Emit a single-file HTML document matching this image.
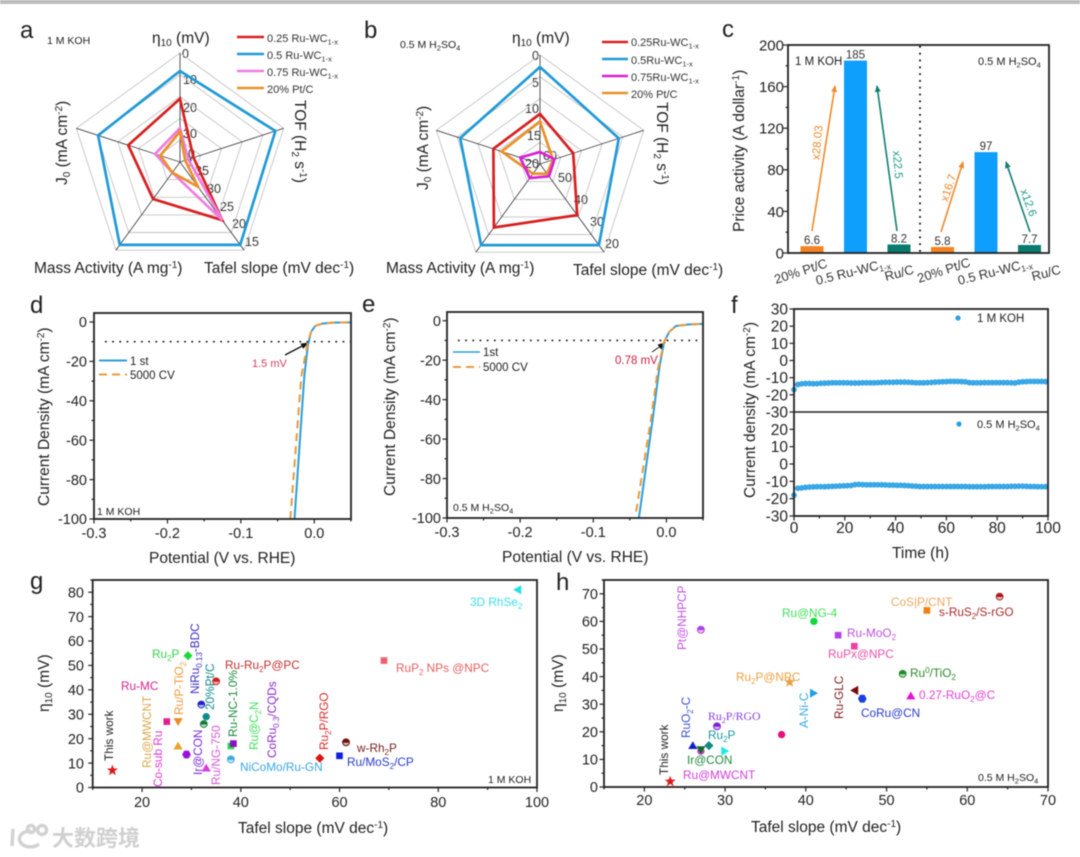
<!DOCTYPE html>
<html lang="en">
<head>
<meta charset="utf-8">
<title>Ru-WC catalyst HER performance figure</title>
<style>
html,body{margin:0;padding:0;background:#fff;width:1080px;height:857px;overflow:hidden}
svg{display:block;filter:blur(.5px)}
</style>
</head>
<body>
<svg id="chart" xmlns="http://www.w3.org/2000/svg" width="1080" height="857" viewBox="0 0 1080 857" font-family="'Liberation Sans',sans-serif" fill="#222">
<defs>
<marker id="ah-orange" markerWidth="7" markerHeight="7" refX="6" refY="3" orient="auto" markerUnits="userSpaceOnUse"><path d="M0,0 L7,3 L0,6 Z" fill="#ee8a2a"/></marker>
<marker id="ah-teal" markerWidth="7" markerHeight="7" refX="6" refY="3" orient="auto" markerUnits="userSpaceOnUse"><path d="M0,0 L7,3 L0,6 Z" fill="#0f7f72"/></marker>
<marker id="ah-black" markerWidth="8" markerHeight="7" refX="7" refY="3" orient="auto" markerUnits="userSpaceOnUse"><path d="M0,0 L8,3 L0,6 Z" fill="#111"/></marker>
</defs>
<rect x="0" y="0" width="1080" height="4" fill="#bcbcbc"/>

<!-- panel letters -->
<g font-size="24">
<text x="20" y="38">a</text>
<text x="364" y="38">b</text>
<text x="722" y="37">c</text>
<text x="30" y="313">d</text>
<text x="362" y="312">e</text>
<text x="731" y="313">f</text>
<text x="30" y="589">g</text>
<text x="556" y="590">h</text>
</g>

<!-- panel a text -->
<text x="47" y="44" font-size="10.5">1 M KOH</text>
<g font-size="15.5">
<text x="152" y="43">η<tspan dy="3" font-size="10">10</tspan><tspan dy="-3"> (mV)</tspan></text>
<text x="295" y="100" transform="rotate(90 295 100)">TOF (H<tspan dy="3" font-size="10">2</tspan><tspan dy="-3"> s</tspan><tspan dy="-5" font-size="10">-1</tspan><tspan dy="5">)</tspan></text>
<text x="67" y="185" transform="rotate(-90 67 185)">J<tspan dy="3" font-size="10">0</tspan><tspan dy="-3"> (mA cm</tspan><tspan dy="-5" font-size="10">-2</tspan><tspan dy="5">)</tspan></text>
<text x="34" y="273">Mass Activity (A mg<tspan dy="-5" font-size="10">-1</tspan><tspan dy="5">)</tspan></text>
<text x="204" y="273">Tafel slope (mV dec<tspan dy="-5" font-size="10">-1</tspan><tspan dy="5">)</tspan></text>
</g>
<g font-size="12.5" fill="#333">
<text x="182" y="58">0</text>
<text x="183" y="84">10</text>
<text x="183" y="112">20</text>
<text x="183" y="138">30</text>
<text x="188" y="158">0</text>
<text x="188" y="166" font-size="10">1</text>
<text x="195" y="175">35</text>
<text x="207" y="193">30</text>
<text x="220" y="211">25</text>
<text x="232" y="228">20</text>
<text x="245" y="246">15</text>
</g>
<g font-size="11" fill="#333">
<text x="267" y="42">0.25 Ru-WC<tspan dy="2.5" font-size="7.5">1-x</tspan></text>
<text x="267" y="59">0.5 Ru-WC<tspan dy="2.5" font-size="7.5">1-x</tspan></text>
<text x="267" y="76">0.75 Ru-WC<tspan dy="2.5" font-size="7.5">1-x</tspan></text>
<text x="267" y="93">20% Pt/C</text>
<text x="631" y="46">0.25Ru-WC<tspan dy="2.5" font-size="7.5">1-x</tspan></text>
<text x="631" y="64">0.5Ru-WC<tspan dy="2.5" font-size="7.5">1-x</tspan></text>
<text x="631" y="81">0.75Ru-WC<tspan dy="2.5" font-size="7.5">1-x</tspan></text>
<text x="631" y="98">20% Pt/C</text>
</g>
<g stroke-width="2.6" fill="none">
<line x1="237" y1="37" x2="264" y2="37" stroke="#d71f1f"/>
<line x1="237" y1="54" x2="264" y2="54" stroke="#1f9ad6"/>
<line x1="237" y1="71" x2="264" y2="71" stroke="#ef7ce0"/>
<line x1="237" y1="88" x2="264" y2="88" stroke="#e8902a"/>
<line x1="602" y1="42" x2="628" y2="42" stroke="#d71f1f"/>
<line x1="602" y1="59" x2="628" y2="59" stroke="#1f9ad6"/>
<line x1="602" y1="76" x2="628" y2="76" stroke="#d81fd8"/>
<line x1="602" y1="93" x2="628" y2="93" stroke="#e8902a"/>
</g>

<!-- panel b text -->
<text x="400" y="48" font-size="10.5">0.5 M H<tspan dy="2.5" font-size="7.5">2</tspan><tspan dy="-2.5">SO</tspan><tspan dy="2.5" font-size="7.5">4</tspan></text>
<g font-size="15.5">
<text x="512" y="43">η<tspan dy="3" font-size="10">10</tspan><tspan dy="-3"> (mV)</tspan></text>
<text x="657" y="102" transform="rotate(90 657 102)">TOF (H<tspan dy="3" font-size="10">2</tspan><tspan dy="-3"> s</tspan><tspan dy="-5" font-size="10">-1</tspan><tspan dy="5">)</tspan></text>
<text x="428" y="190" transform="rotate(-90 428 190)">J<tspan dy="3" font-size="10">0</tspan><tspan dy="-3"> (mA cm</tspan><tspan dy="-5" font-size="10">-2</tspan><tspan dy="5">)</tspan></text>
<text x="386" y="273">Mass Activity (A mg<tspan dy="-5" font-size="10">-1</tspan><tspan dy="5">)</tspan></text>
<text x="573" y="275">Tafel slope (mV dec<tspan dy="-5" font-size="10">-1</tspan><tspan dy="5">)</tspan></text>
</g>
<g font-size="12.5" fill="#333">
<text x="532" y="60">0</text>
<text x="532" y="87">5</text>
<text x="525" y="113">10</text>
<text x="527" y="140">15</text>
<text x="525" y="168">20</text>
<text x="543" y="160">60</text>
<text x="558" y="182">50</text>
<text x="574" y="204">40</text>
<text x="590" y="226">30</text>
<text x="605" y="248">20</text>
</g>

<!-- panel c text -->
<text x="744" y="232" font-size="15.5" transform="rotate(-90 744 232)">Price activity (A dollar<tspan dy="-5" font-size="10">-1</tspan><tspan dy="5">)</tspan></text>
<text x="795" y="65" font-size="11.5">1 M KOH</text>
<text x="978" y="65" font-size="11">0.5 M H<tspan dy="2.5" font-size="7.5">2</tspan><tspan dy="-2.5">SO</tspan><tspan dy="2.5" font-size="7.5">4</tspan></text>
<g font-size="13" fill="#333">
<text x="776" y="284" transform="rotate(-18 776 284)">20% Pt/C</text>
<text x="817" y="285" transform="rotate(-14 817 285)">0.5 Ru-WC<tspan dy="2.5" font-size="8.5">1-x</tspan></text>
<text x="886" y="281" transform="rotate(-15 886 281)">Ru/C</text>
<text x="919" y="283" transform="rotate(-18 919 283)">20% Pt/C</text>
<text x="959" y="285" transform="rotate(-14 959 285)">0.5 Ru-WC<tspan dy="2.5" font-size="8.5">1-x</tspan></text>
<text x="1033" y="281" transform="rotate(-15 1033 281)">Ru/C</text>
</g>

<!-- panel d text -->
<text x="49" y="506" font-size="15.5" transform="rotate(-90 49 506)">Current Density (mA cm<tspan dy="-5" font-size="10">-2</tspan><tspan dy="5">)</tspan></text>
<text x="149" y="563" font-size="15.5">Potential (V vs. RHE)</text>
<text x="97" y="515" font-size="10.5">1 M KOH</text>
<text x="252" y="367" font-size="11" fill="#cf4060">1.5 mV</text>
<line x1="285" y1="355" x2="308" y2="343" stroke="#111" stroke-width="1.3" marker-end="url(#ah-black)"/>
<line x1="99" y1="360.5" x2="127" y2="360.5" stroke="#2a9fd8" stroke-width="2"/>
<text x="130" y="365" font-size="11.5">1 st</text>
<line x1="99" y1="374.5" x2="127" y2="374.5" stroke="#e89a3c" stroke-width="2" stroke-dasharray="8 5"/>
<text x="130" y="379" font-size="11.5">5000 CV</text>

<!-- panel e text -->
<text x="395" y="496" font-size="15.5" transform="rotate(-90 395 496)">Current Density (mA cm<tspan dy="-5" font-size="10">-2</tspan><tspan dy="5">)</tspan></text>
<text x="502" y="562" font-size="15.5">Potential (V vs. RHE)</text>
<text x="453" y="511" font-size="10.5">0.5 M H<tspan dy="2.5" font-size="7.5">2</tspan><tspan dy="-2.5">SO</tspan><tspan dy="2.5" font-size="7.5">4</tspan></text>
<text x="615" y="364" font-size="11.5" fill="#d02040">0.78 mV</text>
<line x1="652" y1="352" x2="665" y2="343" stroke="#111" stroke-width="1" marker-end="url(#ah-black)"/>
<line x1="453" y1="352" x2="480" y2="352" stroke="#2a9fd8" stroke-width="1.5"/>
<text x="483" y="356" font-size="11.5">1st</text>
<line x1="453" y1="367" x2="480" y2="367" stroke="#e89a3c" stroke-width="2" stroke-dasharray="8 5"/>
<text x="483" y="371" font-size="11.5">5000 CV</text>

<!-- panel f text -->
<text x="755" y="498" font-size="15.5" transform="rotate(-90 755 498)">Current density (mA cm<tspan dy="-5" font-size="10">-2</tspan><tspan dy="5">)</tspan></text>
<text x="892" y="558" font-size="15.5">Time (h)</text>
<circle cx="958" cy="318" r="2.6" fill="#2aa0e0"/>
<text x="977" y="322" font-size="11.5">1 M KOH</text>
<circle cx="959" cy="424" r="2.6" fill="#2aa0e0"/>
<text x="977" y="428" font-size="11">0.5 M H<tspan dy="2.5" font-size="7.5">2</tspan><tspan dy="-2.5">SO</tspan><tspan dy="2.5" font-size="7.5">4</tspan></text>

<!-- panel g text -->
<text x="49" y="712" font-size="15.5" transform="rotate(-90 49 712)">η<tspan dy="3" font-size="10">10</tspan><tspan dy="-3"> (mV)</tspan></text>
<text x="238" y="833" font-size="15.5">Tafel slope (mV dec<tspan dy="-5" font-size="10">-1</tspan><tspan dy="5">)</tspan></text>
<text x="488" y="783" font-size="10.5">1 M KOH</text>
<g font-size="11.8">
<text x="113" y="761" transform="rotate(-90 113 761)">This work</text>
<text x="121" y="690" fill="#d6248f">Ru-MC</text>
<text x="151" y="768" transform="rotate(-90 151 768)" fill="#d9a84a">Ru@MWCNT</text>
<text x="162" y="787" transform="rotate(-90 162 787)" fill="#e03ad0">Co-sub Ru</text>
<text x="152" y="658" fill="#34d24a">Ru<tspan dy="3" font-size="8">2</tspan><tspan dy="-3">P</tspan></text>
<text x="183" y="715" transform="rotate(-90 183 715)" fill="#ee9a3a">Ru/P-TiO<tspan dy="3" font-size="8">2</tspan></text>
<text x="199" y="694" transform="rotate(-90 199 694)" fill="#3a2fc0">NiRu<tspan dy="3" font-size="8">0.13</tspan><tspan dy="-3">-BDC</tspan></text>
<text x="214" y="710" transform="rotate(-90 214 710)" fill="#128a8a">20%Pt/C</text>
<text x="202" y="775" transform="rotate(-90 202 775)" fill="#7a28d8">Ir@CON</text>
<text x="220" y="785" transform="rotate(-90 220 785)" fill="#d45ad8">Ru/NG-750</text>
<text x="237" y="737" transform="rotate(-90 237 737)" fill="#1a8a3a">Ru-NC-1.0%</text>
<text x="258" y="750" transform="rotate(-90 258 750)" fill="#3ee05a">Ru@C<tspan dy="3" font-size="8">2</tspan><tspan dy="-3">N</tspan></text>
<text x="276" y="758" transform="rotate(-90 276 758)" fill="#8a2bc0">CoRu<tspan dy="3" font-size="8">0.3</tspan><tspan dy="-3">/CQDs</tspan></text>
<text x="225" y="669" fill="#c23030">Ru-Ru<tspan dy="3" font-size="8">2</tspan><tspan dy="-3">P@PC</tspan></text>
<text x="240" y="771" fill="#3aa8e0">NiCoMo/Ru-GN</text>
<text x="328" y="750" transform="rotate(-90 328 750)" fill="#d82a2a">Ru<tspan dy="3" font-size="8">2</tspan><tspan dy="-3">P/RGO</tspan></text>
<text x="357" y="752" fill="#7a2020">w-Rh<tspan dy="3" font-size="8">2</tspan><tspan dy="-3">P</tspan></text>
<text x="347" y="766" fill="#2a3ac8">Ru/MoS<tspan dy="3" font-size="8">2</tspan><tspan dy="-3">/CP</tspan></text>
<text x="396" y="672" fill="#e06060">RuP<tspan dy="3" font-size="8">2</tspan><tspan dy="-3"> NPs @NPC</tspan></text>
<text x="470" y="606" fill="#3ae0e8">3D RhSe<tspan dy="3" font-size="8">2</tspan></text>
</g>

<!-- panel h text -->
<text x="563" y="712" font-size="15.5" transform="rotate(-90 563 712)">η<tspan dy="3" font-size="10">10</tspan><tspan dy="-3"> (mV)</tspan></text>
<text x="751" y="832" font-size="15.5">Tafel slope (mV dec<tspan dy="-5" font-size="10">-1</tspan><tspan dy="5">)</tspan></text>
<text x="978" y="781" font-size="10.5">0.5 M H<tspan dy="2.5" font-size="7.5">2</tspan><tspan dy="-2.5">SO</tspan><tspan dy="2.5" font-size="7.5">4</tspan></text>
<g font-size="11.8">
<text x="668" y="775" transform="rotate(-90 668 775)">This work</text>
<text x="686" y="650" transform="rotate(-90 686 650)" fill="#c050e0">Pt@NHPCP</text>
<text x="690" y="738" transform="rotate(-90 690 738)" fill="#3a50c8">RuO<tspan dy="3" font-size="8">2</tspan><tspan dy="-3">-C</tspan></text>
<text x="708" y="720" font-family="'Liberation Serif',serif" fill="#8a40d8">Ru<tspan dy="3" font-size="8">2</tspan><tspan dy="-3">P/RGO</tspan></text>
<text x="708" y="739" fill="#1a9a9a">Ru<tspan dy="3" font-size="8">2</tspan><tspan dy="-3">P</tspan></text>
<text x="687" y="764" fill="#1e8a3a">Ir@CON</text>
<text x="683" y="779" fill="#d040d8">Ru@MWCNT</text>
<text x="736" y="681" fill="#eaa040">Ru<tspan dy="3" font-size="8">2</tspan><tspan dy="-3">P@NPC</tspan></text>
<text x="808" y="728" transform="rotate(-90 808 728)" fill="#3aa8e0">A-Ni-C</text>
<text x="782" y="617" fill="#3ee05a">Ru@NG-4</text>
<text x="847" y="637" fill="#c050e0">Ru-MoO<tspan dy="3" font-size="8">2</tspan></text>
<text x="828" y="658" fill="#e850a8">RuPx@NPC</text>
<text x="843" y="719" transform="rotate(-90 843 719)" fill="#7a2020">Ru-GLC</text>
<text x="861" y="717" fill="#2a3ac8">CoRu@CN</text>
<text x="910" y="677" fill="#2a8a2a">Ru<tspan dy="-4" font-size="8">0</tspan><tspan dy="4">/TiO</tspan><tspan dy="3" font-size="8">2</tspan></text>
<text x="919" y="699" fill="#e040d8">0.27-RuO<tspan dy="3" font-size="8">2</tspan><tspan dy="-3">@C</tspan></text>
<text x="891" y="606" fill="#eaa860">CoS|P/CNT</text>
<text x="939" y="616" fill="#a82a2a">s-RuS<tspan dy="3" font-size="8">2</tspan><tspan dy="-3">/S-rGO</tspan></text>
</g>

<!-- watermark -->
<g fill="none" stroke="#d2d2d2" stroke-width="3.5">
<path d="M13,829 L12,846 M31,831 C21,831 17,838 21,843 C25,848 34,848 39,844"/>
<circle cx="31" cy="829" r="3.5"/>
<circle cx="42" cy="830" r="4.5"/>
<text x="52" y="846" font-size="22" font-weight="700" stroke="none" fill="#d0d0d0" font-family="'Liberation Sans','Noto Sans CJK SC',sans-serif">大数跨境</text>
</g>

<!-- annotation arrows panel c (drawn above bars via script order) -->
<g id="annotations"></g>

<script>
// ---------- radar data (percent of spoke length, clockwise from the top spoke) ----------
const radarAxes = ['eta10', 'TOF', 'Tafel slope', 'Mass activity', 'J0'];
const radarRings = [20, 40, 60, 80, 100];
const radarARed = [58, 13, 66, 42, 50];
const radarABlue = [83.5, 92, 94, 94, 79];
const radarAPink = [31, 8, 66, 12, 24];
const radarAOrange = [28, 5, 28, 12, 19];
const radarBRed = [46, 32, 58, 72, 45];
const radarBBlue = [89, 76, 92, 92, 77];
const radarBMagenta = [11, 14, 14, 16, 19];
const radarBOrange = [39, 12.5, 11, 11, 37];

// ---------- price activity bars ----------
const barCategories = ['20% Pt/C KOH', '0.5 Ru-WC KOH', 'Ru/C KOH', '20% Pt/C H2SO4', '0.5 Ru-WC H2SO4', 'Ru/C H2SO4'];
const barValues = [6.6, 185, 8.2, 5.8, 97, 7.7];
const priceYTicks = ['0', '40', '80', '120', '160', '200'];

// ---------- LSV curves ----------
const lsvXTicks = ['-0.3', '-0.2', '-0.1', '0.0'];
const lsvYTicks = ['0', '-20', '-40', '-60', '-80', '-100'];
const lsvRefLevel = [-10];
const kohFirstV = [-0.027, -0.0136, -0.009, -0.0045, 0.0014, 0.011, 0.025, 0.05];
const kohFirstJ = [-100, -27.7, -12.5, -5, -2, -0.8, -0.3, -0.2];
const kohCvV = [-0.0327, -0.0177, -0.009, -0.0045, 0.0014, 0.011, 0.025, 0.05];
const kohCvJ = [-100, -27.7, -10.7, -5, -2, -0.8, -0.3, -0.2];
const acidFirstV = [-0.0377, -0.0186, -0.0095, -0.003, 0.004, 0.013, 0.031, 0.05];
const acidFirstJ = [-100, -49.5, -23.3, -10.6, -5.6, -2.7, -1.9, -1.6];
const acidCvV = [-0.0414, -0.021, -0.012, -0.003, 0.004, 0.013, 0.031, 0.05];
const acidCvJ = [-96.8, -49.5, -25, -10.6, -5.6, -2.7, -1.9, -1.6];

// ---------- stability series ----------
const stabXTicks = ['0', '20', '40', '60', '80', '100'];
const stabTopYTicks = ['30', '20', '10', '0', '-10', '-20', '-30'];
const stabBottomYTicks = ['20', '10', '0', '-10', '-20', '-30'];
const stabTime = [0,1.5,3,4.5,6,7.5,9,10.5,12,13.5,15,16.5,18,19.5,21,22.5,24,25.5,27,28.5,30,31.5,33,34.5,36,37.5,39,40.5,42,43.5,45,46.5,48,49.5,51,52.5,54,55.5,57,58.5,60,61.5,63,64.5,66,67.5,69,70.5,72,73.5,75,76.5,78,79.5,81,82.5,84,85.5,87,88.5,90,91.5,93,94.5,96,97.5,99];
const stabKoh = [-17,-14,-13.6,-13.4,-13.4,-13.5,-13.5,-13.3,-13.2,-13.1,-13,-13,-13,-13,-13,-13.1,-13.1,-13.1,-13,-13,-13,-13,-12.9,-12.8,-12.7,-12.7,-12.7,-12.6,-12.6,-12.6,-12.7,-12.8,-13,-13,-13,-12.9,-12.8,-12.6,-12.5,-12.4,-12.3,-12.2,-12.2,-12.2,-12.3,-12.4,-12.9,-13,-13,-13,-12.9,-12.9,-12.9,-12.9,-12.9,-12.9,-12.9,-13,-13.1,-12.6,-12.4,-12.3,-12.2,-12.2,-12.2,-12.2,-12.3];
const stabAcid = [-18,-14,-13.8,-13.5,-13.3,-13.2,-13.1,-13.1,-13.1,-13,-12.9,-12.8,-12.7,-12.6,-12.5,-12.4,-11.9,-11.8,-11.9,-12,-12,-12,-12,-12,-12.1,-12.2,-12.2,-12.3,-12.3,-12.4,-12.5,-12.7,-12.8,-13,-13,-13,-13,-13,-13,-13,-13,-13,-13,-13,-13,-13,-13.1,-13.1,-13.1,-13.1,-13.1,-13,-13,-13,-13,-13,-13,-12.9,-12.9,-12.8,-12.8,-12.9,-13,-13,-13.1,-13.1,-13.1];

// ---------- scatter g ----------
const gXTicks = ['20', '40', '60', '80', '100'];
const gYTicks = ['0', '10', '20', '30', '40', '50', '60', '70', '80'];
const gCatalysts = ['This work','Ru-MC','Ru/P-TiO2','Ru@MWCNT','Ru2P','Co-sub Ru','NiRu0.13-BDC','20%Pt/C','Ir@CON','Ru/NG-750','Ru-Ru2P@PC','Ru-NC-1.0%','CoRu0.3/CQDs','NiCoMo/Ru-GN','Ru2P/RGO','w-Rh2P','Ru/MoS2/CP','RuP2 NPs @NPC','3D RhSe2'];
const gTafel = [14, 25, 27.3, 27.3, 29.3, 29, 32, 33, 32.5, 33, 35, 38, 38.5, 38, 56, 61.3, 60, 69, 96];
const gEta = [7, 27, 27, 17, 54, 13.5, 34, 29, 26, 8, 43.5, 17, 18, 11.5, 12, 18.5, 13, 52, 81];

// ---------- scatter h ----------
const hXTicks = ['20', '30', '40', '50', '60', '70'];
const hYTicks = ['0', '10', '20', '30', '40', '50', '60', '70'];
const hCatalysts = ['This work','Ru2P/RGO','RuO2-C','Ru2P','Ru@MWCNT','Ir@CON','Unlabelled','Pt@NHPCP','Ru2P@NPC','Pink point','A-Ni-C','Ru@NG-4','Ru-MoO2','RuPx@NPC','Ru-GLC','CoRu@CN','Ru0/TiO2','0.27-RuO2@C','CoS|P/CNT','s-RuS2/S-rGO'];
const hTafel = [23.2, 29, 26, 28, 27, 27, 30, 27, 38, 37, 41, 41, 44, 46, 46, 47, 52, 53, 55, 64];
const hEta = [2, 22, 15, 15, 13, 13.5, 13, 57, 38, 19, 34, 60, 55, 51, 35, 32, 41, 33, 64, 69];

// ---------- marker styles (presentation only, keyed by catalyst) ----------
const gStyle = {
  'This work':['star','#e01a1a'],'Ru-MC':['square','#e0208a'],'Ru/P-TiO2':['down','#ee8a20'],'Ru@MWCNT':['up','#e8a428'],
  'Ru2P':['diamond','#1ed83a'],'Co-sub Ru':['hex','#9a10dc'],'NiRu0.13-BDC':['half','#2020c8'],'20%Pt/C':['circle','#0f8a8a'],
  'Ir@CON':['half','#137a37'],'Ru/NG-750':['up','#d83ae0'],'Ru-Ru2P@PC':['half','#c82020'],'Ru-NC-1.0%':['square','#2ad84a'],
  'CoRu0.3/CQDs':['square','#8a10c0'],'NiCoMo/Ru-GN':['half','#3aa8e0'],'Ru2P/RGO':['diamond','#e01010'],'w-Rh2P':['half','#6a1010'],
  'Ru/MoS2/CP':['square','#1020d8'],'RuP2 NPs @NPC':['square','#f06070'],'3D RhSe2':['left','#20e0e8']
};
const hStyle = {
  'This work':['star','#e01a1a'],'Ru2P/RGO':['half','#7a20e0'],'RuO2-C':['up','#1020c8'],'Ru2P':['diamond','#108a80'],
  'Ru@MWCNT':['circle','#c040c0'],'Ir@CON':['down','#12682c'],'Unlabelled':['right','#20e8e8'],'Pt@NHPCP':['half','#b040e0'],
  'Ru2P@NPC':['star','#e8a040'],'Pink point':['circle','#e8107a'],'A-Ni-C':['right','#20a0e8'],'Ru@NG-4':['circle','#10d83a'],
  'Ru-MoO2':['square','#b840e8'],'RuPx@NPC':['square','#f040a0'],'Ru-GLC':['left','#7a0a0a'],'CoRu@CN':['hex','#1840e0'],
  'Ru0/TiO2':['half','#1c8a2a'],'0.27-RuO2@C':['up','#e810d8'],'CoS|P/CNT':['square','#f08010'],'s-RuS2/S-rGO':['half','#b01818']
};

const NS = 'http://www.w3.org/2000/svg';
const root = document.getElementById('chart');
const annotations = document.getElementById('annotations');

function mk(tag, attrs, parent) {
  const el = document.createElementNS(NS, tag);
  for (const k in attrs) el.setAttribute(k, attrs[k]);
  (parent || root).insertBefore(el, parent ? null : annotations);
  return el;
}

// ---------- axes ----------
function linear(d0, d1, r0, r1) { return v => r0 + (v - d0) * (r1 - r0) / (d1 - d0); }

function drawXTicks(cfg, sx) {
  const vals = cfg.xTicks.map(parseFloat);
  const step = (vals[1] - vals[0]) / 2;
  for (let v = vals[0] - step * Math.floor((vals[0] - cfg.xDomain[0]) / step + 1e-6); v <= cfg.xDomain[1] + 1e-6; v += step) {
    const major = vals.some(t => Math.abs(t - v) < 1e-6);
    if (cfg.noXTicks) break;
    const t = mk('line', {x1: sx(v), x2: sx(v), y1: cfg.bottom, y2: cfg.bottom + (major ? 4.5 : 2.5), stroke: '#222', 'stroke-width': 1.2});
    
    
  }
  cfg.xTicks.forEach(label => {
    const t = mk('text', {x: sx(parseFloat(label)), y: cfg.xLabelY, 'text-anchor': 'middle', 'font-size': cfg.fontSize});
    t.textContent = label;
    
    
  });
}

function drawYTicks(cfg, sy, ticks, domain) {
  const vals = ticks.map(parseFloat);
  const step = Math.abs(vals[1] - vals[0]) / 2;
  const lo = Math.min(domain[0], domain[1]), hi = Math.max(domain[0], domain[1]);
  if (cfg.yMinor !== false) {
    for (let v = Math.min.apply(null, vals); v <= hi + 1e-6; v += step) {
      const major = vals.some(t => Math.abs(t - v) < 1e-6);
      if (v < lo - 1e-6 || major) continue;
      const t = mk('line', {x1: cfg.left, x2: cfg.left - 2.5, y1: sy(v), y2: sy(v), stroke: '#222', 'stroke-width': 1.2});
      
      
    }
  }
  ticks.forEach(label => {
    const v = parseFloat(label);
    const t = mk('line', {x1: cfg.left, x2: cfg.left - 4.5, y1: sy(v), y2: sy(v), stroke: '#222', 'stroke-width': 1.2});
    
    
    const l = mk('text', {x: cfg.yLabelX, y: sy(v) + cfg.fontSize * 0.36, 'text-anchor': 'end', 'font-size': cfg.fontSize});
    l.textContent = label;
    
    
  });
}

function drawFrame(cfg) {
  const f = mk('rect', {x: cfg.left, y: cfg.top, width: cfg.right - cfg.left, height: cfg.bottom - cfg.top, fill: 'none', stroke: '#222', 'stroke-width': 1.8});
  
  
}

// ---------- radar ----------
function radarPoint(c, i, value) {
  const a = i * 2 * Math.PI / radarAxes.length;
  return [c.x + c.r * value / 100 * Math.sin(a), c.y - c.r * value / 100 * Math.cos(a)];
}
function radarPath(c, values) {
  return values.map((v, i) => radarPoint(c, i, v).map(n => n.toFixed(1)).join(',')).join(' ');
}
function drawRadarGrid(c) {
  radarRings.forEach(ring => {
    const el = mk('polygon', {points: radarPath(c, radarAxes.map(() => ring)), fill: 'none', stroke: '#c4c4c4', 'stroke-width': 0.9});
    
    
  });
  radarAxes.forEach((name, i) => {
    const p = radarPoint(c, i, 100);
    const el = mk('line', {x1: c.x, y1: c.y, x2: p[0], y2: p[1], stroke: '#444', 'stroke-width': 0.9});
    
    
  });
}
function drawRadarSeries(c, values, color) {
  const el = mk('polygon', {points: radarPath(c, values), fill: 'none', stroke: color, 'stroke-width': 2.7, 'stroke-linejoin': 'miter'});
  
  
}
const radarCenterA = {x: 180, y: 162, r: 109};
const radarCenterB = {x: 540, y: 164, r: 109};
drawRadarGrid(radarCenterA);
drawRadarSeries(radarCenterA, radarARed, '#d71f1f');
drawRadarSeries(radarCenterA, radarABlue, '#1f9ad6');
drawRadarSeries(radarCenterA, radarAPink, '#ef7ce0');
drawRadarSeries(radarCenterA, radarAOrange, '#e8902a');
drawRadarGrid(radarCenterB);
drawRadarSeries(radarCenterB, radarBRed, '#d71f1f');
drawRadarSeries(radarCenterB, radarBBlue, '#1f9ad6');
drawRadarSeries(radarCenterB, radarBOrange, '#e8902a');
drawRadarSeries(radarCenterB, radarBMagenta, '#d81fd8');

// ---------- bars ----------
const priceCfg = {left: 788, right: 1049, top: 45, bottom: 253, yLabelX: 784, fontSize: 15};
const priceY = linear(0, 200, 253, 45);
const priceX = i => 812 + 43.5 * i;
const barColors = ['#f58220', '#0d9ffb', '#0a7a6e'];
barValues.forEach((v, i) => {
  const bar = mk('rect', {x: priceX(i) - 11.5, y: priceY(v), width: 23, height: priceY(0) - priceY(v), fill: barColors[i % 3]});
  
  
  const tt = document.createElementNS(NS, 'title');
  tt.textContent = barCategories[i];
  bar.appendChild(tt);
  const lab = mk('text', {x: priceX(i), y: priceY(v) - 2, 'text-anchor': 'middle', 'font-size': 11.5, fill: '#333'});
  lab.textContent = String(v);
  
  
});
drawFrame(priceCfg);
drawYTicks(priceCfg, priceY, priceYTicks, [0, 200]);
const priceDivider = mk('line', {x1: 920, x2: 920, y1: 46, y2: 253, stroke: '#111', 'stroke-width': 1.8, 'stroke-dasharray': '1.8 5'});



function priceArrow(x1, y1, x2, y2, color, head) {
  const el = mk('line', {x1: x1, y1: y1, x2: x2, y2: y2, stroke: color, 'stroke-width': 1.6, 'marker-end': 'url(#' + head + ')'}, annotations);
  
  
}
function priceNote(text, x, y, angle, color) {
  const el = mk('text', {x: x, y: y, 'text-anchor': 'middle', 'font-size': 11.5, fill: color, transform: 'rotate(' + angle + ' ' + x + ' ' + y + ')'}, annotations);
  el.textContent = text;
  
  
}
priceArrow(812, 231, 835, 86, '#ee8a2a', 'ah-orange');
priceArrow(897, 231, 877, 86, '#0f7f72', 'ah-teal');
priceArrow(941, 232, 963, 162, '#ee8a2a', 'ah-orange');
priceArrow(1030, 232, 1006, 162, '#0f7f72', 'ah-teal');
priceNote('x28.03', 821, 143, -85, '#ee8a2a');
priceNote('x22.5', 894, 165, 85, '#1c9a8c');
priceNote('x16.7', 952, 189, -72, '#ee8a2a');
priceNote('x12.6', 1025, 204, 70, '#1c9a8c');

// ---------- LSV ----------
function drawLsv(cfg, firstV, firstJ, cvV, cvJ) {
  const sx = linear(cfg.xDomain[0], cfg.xDomain[1], cfg.left, cfg.right);
  const sy = linear(0, -100, cfg.zeroY, cfg.bottom);
  const ref = mk('line', {x1: sx(-0.285), x2: cfg.right, y1: sy(lsvRefLevel[0]), y2: sy(lsvRefLevel[0]), stroke: '#111', 'stroke-width': 1.7, 'stroke-dasharray': '1.7 5.5'});
  
  
  const first = mk('polyline', {points: firstV.map((v, i) => sx(v).toFixed(1) + ',' + sy(firstJ[i]).toFixed(1)).join(' '), fill: 'none', stroke: '#2a9fd8', 'stroke-width': 2, 'stroke-linejoin': 'round'});
  
  
  const cv = mk('polyline', {points: cvV.map((v, i) => sx(v).toFixed(1) + ',' + sy(cvJ[i]).toFixed(1)).join(' '), fill: 'none', stroke: '#e89a3c', 'stroke-width': 2, 'stroke-dasharray': '8 5', 'stroke-linejoin': 'round'});
  
  
  drawFrame(cfg);
  drawXTicks(cfg, sx);
  drawYTicks(cfg, sy, lsvYTicks, [-100, 0]);
}
drawLsv({left: 94, right: 351, top: 313, bottom: 519, zeroY: 322, xDomain: [-0.3, 0.05], xTicks: lsvXTicks, xLabelY: 538, yLabelX: 87, fontSize: 14.5}, kohFirstV, kohFirstJ, kohCvV, kohCvJ);
drawLsv({left: 447, right: 703, top: 312, bottom: 518, zeroY: 320.7, xDomain: [-0.3, 0.05], xTicks: lsvXTicks, xLabelY: 537, yLabelX: 441, fontSize: 14.5}, acidFirstV, acidFirstJ, acidCvV, acidCvJ);

// ---------- stability ----------
const stabCfg = {left: 794, right: 1048, top: 309, bottom: 516, xDomain: [0, 100], xTicks: stabXTicks, xLabelY: 533, yLabelX: 788, fontSize: 15.5, yMinor: false};
const stabX = linear(0, 100, 794, 1048);
const stabTopY = linear(-30, 30, 412, 309);
const stabBottomY = linear(-30, 30, 516, 412);
function drawStability(values, sy) {
  values.forEach((v, i) => {
    const d = mk('circle', {cx: stabX(stabTime[i]), cy: sy(v), r: 2.6, fill: '#3aaaea', stroke: '#1f93d6', 'stroke-width': 0.5});
    
    
  });
}
drawStability(stabKoh, stabTopY);
drawStability(stabAcid, stabBottomY);
drawFrame(stabCfg);
const stabMid = mk('line', {x1: 794, x2: 1048, y1: 412, y2: 412, stroke: '#222', 'stroke-width': 1.6});


drawXTicks(stabCfg, stabX);
drawYTicks(stabCfg, stabTopY, stabTopYTicks, [-30, 30]);
drawYTicks(stabCfg, stabBottomY, stabBottomYTicks, [-30, 30]);

// ---------- scatter ----------
function drawMarker(shape, x, y, color) {
  const g = mk('g', {transform: 'translate(' + x.toFixed(1) + ',' + y.toFixed(1) + ') scale(1.15)'});
  
  
  const glyphs = {
    square: 'M-2.9,-2.9H2.9V2.9H-2.9Z',
    diamond: 'M0,-4L4,0L0,4L-4,0Z',
    up: 'M0,-3.8L4,3H-4Z',
    down: 'M-4,-3H4L0,3.8Z',
    left: 'M3.4,-4V4L-3.6,0Z',
    right: 'M-3.4,-4V4L3.6,0Z',
    hex: 'M-1.9,-3.4H1.9L3.8,0L1.9,3.4H-1.9L-3.8,0Z',
    star: 'M0,-5L1.3,-1.6L4.8,-1.6L2,0.6L3,4.2L0,2.1L-3,4.2L-2,0.6L-4.8,-1.6L-1.3,-1.6Z',
    half: 'M-3,0.4A3,3 0 0 1 3,0.4Z'
  };
  if (shape === 'circle') {
    mk('circle', {r: 3.2, fill: color}, g);
  } else if (shape === 'half') {
    mk('circle', {r: 3, fill: color, 'fill-opacity': 0.3, stroke: color, 'stroke-width': 0.8}, g);
    mk('path', {d: glyphs.half, fill: color}, g);
  } else {
    mk('path', {d: glyphs[shape], fill: color}, g);
  }
}
function drawScatter(cfg, names, xs, ys, style, yDomain, yTicks) {
  const sx = linear(cfg.xDomain[0], cfg.xDomain[1], cfg.left, cfg.right);
  const sy = linear(yDomain[0], yDomain[1], cfg.bottom, cfg.top);
  drawFrame(cfg);
  drawXTicks(cfg, sx);
  drawYTicks(cfg, sy, yTicks, yDomain);
  names.forEach((n, i) => drawMarker(style[n][0], sx(xs[i]), sy(ys[i]), style[n][1]));
}
drawScatter({left: 92.7, right: 537, top: 580, bottom: 787.5, xDomain: [10, 100], xTicks: gXTicks, xLabelY: 807, yLabelX: 84, fontSize: 14.5}, gCatalysts, gTafel, gEta, gStyle, [0, 85], gYTicks);
drawScatter({left: 604, right: 1048, top: 580, bottom: 787, xDomain: [15, 70], xTicks: hXTicks, xLabelY: 805, yLabelX: 598, fontSize: 14.5}, hCatalysts, hTafel, hEta, hStyle, [0, 75], hYTicks);

// ---------- legend and chart radar colours are in markup; annotation group stays on top ----------
root.appendChild(annotations);
</script>
</svg>
</body>
</html>
